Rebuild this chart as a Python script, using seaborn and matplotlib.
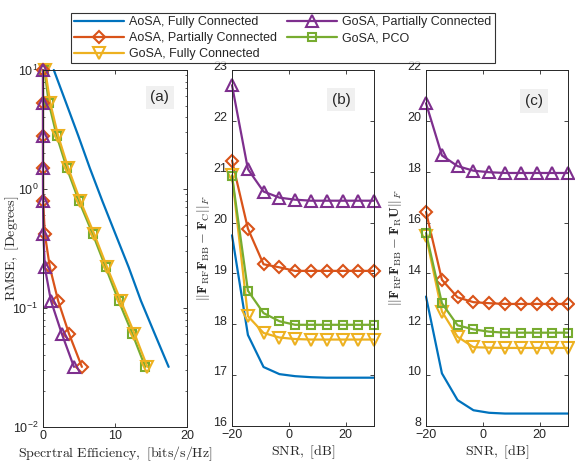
import matplotlib
matplotlib.use("Agg")
import matplotlib.pyplot as plt
import matplotlib.transforms as mtransforms
import seaborn as sns
import pandas as pd
from matplotlib.lines import Line2D

# ---------------------------------------------------------
# DATA
# ---------------------------------------------------------
series_names = ["AoSA, Fully Connected", "AoSA, Partially Connected",
                "GoSA, Fully Connected", "GoSA, Partially Connected", "GoSA, PCO"]

# panel (a): RMSE levels vs spectral efficiency
rmse_levels = [10.0, 5.3, 2.8, 1.5, 0.79, 0.42, 0.22, 0.115, 0.061, 0.032]
se_aosa_fc = [1.5, 3.2, 4.9, 6.5, 8.25, 10.05, 11.9, 13.6, 15.5, 17.45]
se_aosa_pc = [0.0, 0.0, 0.0, 0.0, 0.02, 0.25, 0.95, 2.1, 3.6, 5.4]
se_gosa_fc = [0.3, 1.0, 2.1, 3.5, 5.2, 7.1, 8.9, 10.8, 12.7, 14.5]
se_gosa_pc = [0.0, 0.0, 0.0, 0.0, 0.0, 0.05, 0.25, 1.1, 2.6, 4.3]
se_gosa_pco = [0.2, 0.8, 1.9, 3.3, 5.0, 6.9, 8.7, 10.5, 12.4, 14.2]

# panels (b) and (c): SNR sweep
snr_db = [-20, -14.4, -8.9, -3.3, 2.2, 7.8, 13.3, 18.9, 24.4, 30]

err_c_aosa_fc = [19.75, 17.79, 17.16, 17.02, 16.98, 16.96, 16.95, 16.95, 16.95, 16.95]
err_c_aosa_pc = [21.22, 19.88, 19.18, 19.12, 19.05, 19.05, 19.05, 19.05, 19.05, 19.05]
err_c_gosa_fc = [20.93, 18.16, 17.83, 17.74, 17.71, 17.70, 17.70, 17.70, 17.70, 17.70]
err_c_gosa_pc = [22.70, 21.05, 20.61, 20.49, 20.45, 20.43, 20.43, 20.43, 20.43, 20.43]
err_c_gosa_pco = [20.92, 18.66, 18.22, 18.06, 17.99, 17.99, 17.99, 17.99, 17.99, 17.99]

err_u_aosa_fc = [13.09, 10.07, 9.02, 8.62, 8.52, 8.49, 8.49, 8.49, 8.49, 8.49]
err_u_aosa_pc = [16.42, 13.75, 13.06, 12.87, 12.83, 12.80, 12.80, 12.80, 12.80, 12.80]
err_u_gosa_fc = [15.48, 12.50, 11.51, 11.10, 11.08, 11.07, 11.07, 11.07, 11.07, 11.07]
err_u_gosa_pc = [20.69, 18.64, 18.22, 18.04, 17.98, 17.95, 17.95, 17.95, 17.95, 17.95]
err_u_gosa_pco = [15.59, 12.83, 11.96, 11.80, 11.71, 11.67, 11.67, 11.67, 11.67, 11.67]

# ---------------------------------------------------------
# STYLE
# ---------------------------------------------------------
sns.set_theme(style="ticks")
plt.rcParams["font.family"] = ["Liberation Sans", "DejaVu Sans"]
plt.rcParams["mathtext.fontset"] = "cm"
plt.rcParams["axes.edgecolor"] = "#262626"
plt.rcParams["xtick.color"] = "#262626"
plt.rcParams["ytick.color"] = "#262626"

colors = ["#0072BD", "#D95319", "#EDB120", "#7E2F8E", "#77AC30"]
markers = [None, "D", "v", "^", "s"]
msizes = [0, 6.5, 8, 8, 6]

TICK_FS = 9
LABEL_FS = 10


def draw_series(ax, x, y, idx):
    df = pd.DataFrame({"x": x, "y": y})
    kw = dict(color=colors[idx], linewidth=1.6, clip_on=False)
    if markers[idx] is not None:
        kw.update(marker=markers[idx], markersize=msizes[idx], markerfacecolor="none",
                  markeredgecolor=colors[idx], markeredgewidth=1.5)
    sns.lineplot(data=df, x="x", y="y", ax=ax, sort=False, estimator=None, **kw)


def style_axes(ax):
    ax.tick_params(direction="in", top=True, right=True, labelsize=TICK_FS, length=3, width=0.6)
    ax.tick_params(which="minor", direction="in", top=True, right=True, length=1.5, width=0.5)
    ax.tick_params(axis="x", pad=2)
    for sp in ax.spines.values():
        sp.set_linewidth(0.7)


def lift_ytick_labels(ax, fig, pts=3.0):
    # MATLAB draws y tick labels a touch above the tick; also keeps the
    # bottom label clear of the first x tick label
    shift = mtransforms.ScaledTranslation(0, pts / 72, fig.dpi_scale_trans)
    for lab in ax.get_yticklabels():
        lab.set_transform(lab.get_transform() + shift)


def panel_tag(ax, text, xf, yf):
    ax.text(xf, yf, text, transform=ax.transAxes, ha="center", va="center", fontsize=11,
            bbox=dict(facecolor="#f0f0f0", edgecolor="none", boxstyle="square,pad=0.3"))


fig = plt.figure(figsize=(5.75, 4.62), dpi=100)
ax_a = fig.add_axes([0.0748, 0.0758, 0.2504, 0.7727])
ax_b = fig.add_axes([0.4035, 0.0779, 0.2470, 0.7706])
ax_c = fig.add_axes([0.7409, 0.0779, 0.2470, 0.7706])

# ---- panel (a)
se_series = [se_aosa_fc, se_aosa_pc, se_gosa_fc, se_gosa_pc, se_gosa_pco]
for i in [0, 4, 2, 1, 3]:
    draw_series(ax_a, se_series[i], rmse_levels, i)
ax_a.set_yscale("log")
ax_a.set_xlim(0, 20)
ax_a.set_ylim(0.01, 10)
ax_a.set_xticks([0, 10, 20])
ax_a.set_xlabel(r"$\mathrm{Specrtral\ Efficiency,\ [bits/s/Hz]}$", fontsize=LABEL_FS)
ax_a.set_ylabel(r"$\mathrm{RMSE,\ [Degrees]}$", fontsize=LABEL_FS)
ax_a.yaxis.set_label_coords(-0.15, 0.5)
style_axes(ax_a)
panel_tag(ax_a, "(a)", 0.81, 0.924)

# ---- panel (b)
err_c = [err_c_aosa_fc, err_c_aosa_pc, err_c_gosa_fc, err_c_gosa_pc, err_c_gosa_pco]
for i in range(5):
    draw_series(ax_b, snr_db, err_c[i], i)
ax_b.set_xlim(-20, 30)
ax_b.set_ylim(16, 23)
ax_b.set_xticks([-20, 0, 20])
ax_b.set_yticks(range(16, 24))
ax_b.set_xlabel(r"$\mathrm{SNR,\ [dB]}$", fontsize=LABEL_FS)
ax_b.set_ylabel(r"$||\mathbf{F}_{\rm RF}\mathbf{F}_{\rm BB}-\mathbf{F}_{\rm C}||_F$",
                fontsize=LABEL_FS)
ax_b.yaxis.set_label_coords(-0.14, 0.5)
style_axes(ax_b)
panel_tag(ax_b, "(b)", 0.77, 0.916)

# ---- panel (c)
err_u = [err_u_aosa_fc, err_u_aosa_pc, err_u_gosa_fc, err_u_gosa_pc, err_u_gosa_pco]
for i in range(5):
    draw_series(ax_c, snr_db, err_u[i], i)
ax_c.set_xlim(-20, 30)
ax_c.set_ylim(8, 22)
ax_c.set_xticks([-20, 0, 20])
ax_c.set_yticks(range(8, 23, 2))
ax_c.set_xlabel(r"$\mathrm{SNR,\ [dB]}$", fontsize=LABEL_FS)
ax_c.set_ylabel(r"$||\mathbf{F}_{\rm RF}\mathbf{F}_{\rm BB}-\mathbf{F}_{\rm R}\mathbf{U}||_F$",
                fontsize=LABEL_FS)
ax_c.yaxis.set_label_coords(-0.155, 0.5)
style_axes(ax_c)
panel_tag(ax_c, "(c)", 0.76, 0.913)

for ax in (ax_a, ax_b, ax_c):
    ax.xaxis.set_label_coords(0.5, -0.05)
for ax in (ax_b, ax_c):
    lift_ytick_labels(ax, fig)

# ---- shared legend
handles = []
for i in range(5):
    handles.append(Line2D([], [], color=colors[i], linewidth=1.6, marker=markers[i] or "",
                          markersize=msizes[i], markerfacecolor="none",
                          markeredgecolor=colors[i], markeredgewidth=1.5))
leg = fig.legend(handles, series_names, ncol=2, loc="upper center",
                 bbox_to_anchor=(283 / 575, 1 - 7 / 462), fontsize=9, frameon=True,
                 fancybox=False, edgecolor="black", handlelength=4.0, columnspacing=0.8,
                 labelspacing=0.3, borderpad=0.25, handletextpad=0.4)
leg.get_frame().set_linewidth(0.8)

fig.savefig("out.png", dpi=100)
